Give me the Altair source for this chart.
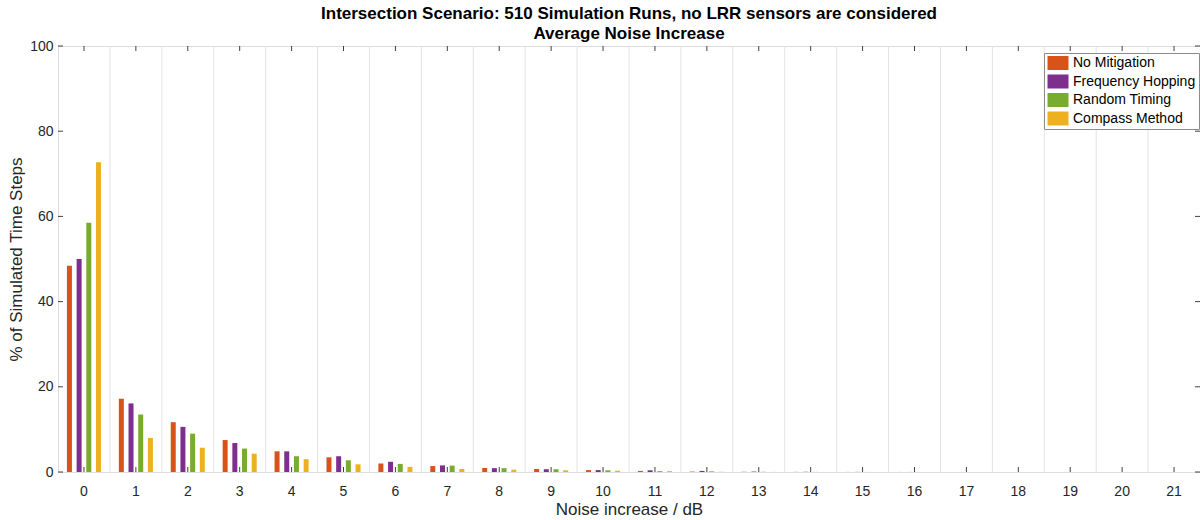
import altair as alt
import pandas as pd

categories = list(range(22))
series = ["No Mitigation", "Frequency Hopping", "Random Timing", "Compass Method"]
colors = ["#D95319", "#7E2F8E", "#77AC30", "#EDB120"]

no_mitigation = [48.4, 17.2, 11.7, 7.5, 4.85, 3.45, 2.0, 1.4, 0.95, 0.7, 0.45, 0.25, 0.1, 0.05, 0.03, 0.02, 0.01, 0, 0, 0, 0, 0]
freq_hopping = [50.0, 16.1, 10.6, 6.8, 4.85, 3.7, 2.4, 1.55, 0.9, 0.65, 0.45, 0.4, 0.25, 0.1, 0.05, 0.03, 0.01, 0, 0, 0, 0, 0]
random_timing = [58.5, 13.5, 9.0, 5.5, 3.7, 2.75, 1.9, 1.5, 0.9, 0.65, 0.4, 0.2, 0.15, 0.05, 0.02, 0.01, 0, 0, 0, 0, 0, 0]
compass_method = [72.7, 8.0, 5.7, 4.3, 3.0, 1.8, 1.2, 0.7, 0.55, 0.4, 0.3, 0.2, 0.05, 0.02, 0.01, 0, 0, 0, 0, 0, 0, 0]

y_ticks = [0, 20, 40, 60, 80, 100]

all_values = [no_mitigation, freq_hopping, random_timing, compass_method]
rows = []
for name, vals in zip(series, all_values):
    for c, v in zip(categories, vals):
        rows.append({"cat": c, "series": name, "value": v})
bars_df = pd.DataFrame(rows)
cat_df = pd.DataFrame({"cat": categories})
ytick_df = pd.DataFrame({"value": y_ticks})

W, H = 1142, 426
FONT = "Liberation Sans"
TXT = "#262626"

xscale = alt.Scale(domain=categories, paddingInner=0, paddingOuter=0)
yscale = alt.Scale(domain=[0, 100], nice=False)

xaxis = alt.Axis(title="Noise increase / dB", labelAngle=0, tickSize=0, domain=False, grid=False,
                 labelPadding=12, titlePadding=3, labelFontSize=14, titleFontSize=17,
                 labelColor=TXT, titleColor=TXT, labelFont=FONT, titleFont=FONT, titleFontWeight="normal")
yaxis = alt.Axis(title="% of Simulated Time Steps", values=y_ticks, tickSize=0, domain=False, grid=False,
                 labelPadding=5, titlePadding=4, labelFontSize=14, titleFontSize=17,
                 labelColor=TXT, titleColor=TXT, labelFont=FONT, titleFont=FONT, titleFontWeight="normal")

X = alt.X("cat:O", scale=xscale, axis=xaxis)
Y = alt.Y("value:Q", scale=yscale, axis=yaxis)

grid = alt.Chart(cat_df).transform_filter("datum.cat >= 1").mark_rule(
    color="#e3e3e3", strokeWidth=1
).encode(x=alt.X("cat:O", scale=xscale, axis=xaxis, bandPosition=0))

bars = alt.Chart(bars_df).mark_bar(size=5).encode(
    x=X,
    xOffset=alt.XOffset("series:N", sort=series,
                        scale=alt.Scale(domain=series, paddingInner=0.48, paddingOuter=0.92)),
    y=Y,
    color=alt.Color("series:N", sort=series,
                    scale=alt.Scale(domain=series, range=colors),
                    legend=alt.Legend(title=None, orient="none", legendX=986, legendY=7,
                                      fillColor="white", strokeColor="#8c8c8c", padding=3,
                                      labelFontSize=14, labelFont=FONT, labelColor="black",
                                      symbolType="M-1.5,-1H1.5V1H-1.5Z", symbolSize=196,
                                      symbolStrokeWidth=0, symbolOpacity=1, rowPadding=4.5,
                                      symbolOffset=4, labelOffset=8)),
)

tick_col = "#404040"
xticks_bottom = alt.Chart(cat_df).mark_rule(color=tick_col, strokeWidth=1).encode(
    x=X, y=alt.value(H), y2=alt.value(H - 5))
xticks_top = alt.Chart(cat_df).mark_rule(color=tick_col, strokeWidth=1).encode(
    x=X, y=alt.value(0), y2=alt.value(5))
yticks_left = alt.Chart(ytick_df).mark_rule(color=tick_col, strokeWidth=1).encode(
    y=Y, x=alt.value(0), x2=alt.value(5))
yticks_right = alt.Chart(ytick_df).mark_rule(color=tick_col, strokeWidth=1).encode(
    y=Y, x=alt.value(W), x2=alt.value(W - 5))

chart = alt.layer(grid, bars, xticks_bottom, xticks_top, yticks_left, yticks_right).properties(
    width=W, height=H,
    title=alt.TitleParams(
        text=["Intersection Scenario: 510 Simulation Runs, no LRR sensors are considered",
              "Average Noise Increase"],
        fontSize=17, fontWeight="bold", font=FONT, color="black",
        anchor="middle", frame="group", offset=-4, lineHeight=20),
    autosize=alt.AutoSizeParams(type="none"),
    padding={"left": 58, "top": 46, "right": 0, "bottom": 48},
).configure_view(stroke="#6e6e6e", strokeWidth=1).configure(background="white")

chart.save("out.html", embed_options={"renderer": "svg", "actions": False})
